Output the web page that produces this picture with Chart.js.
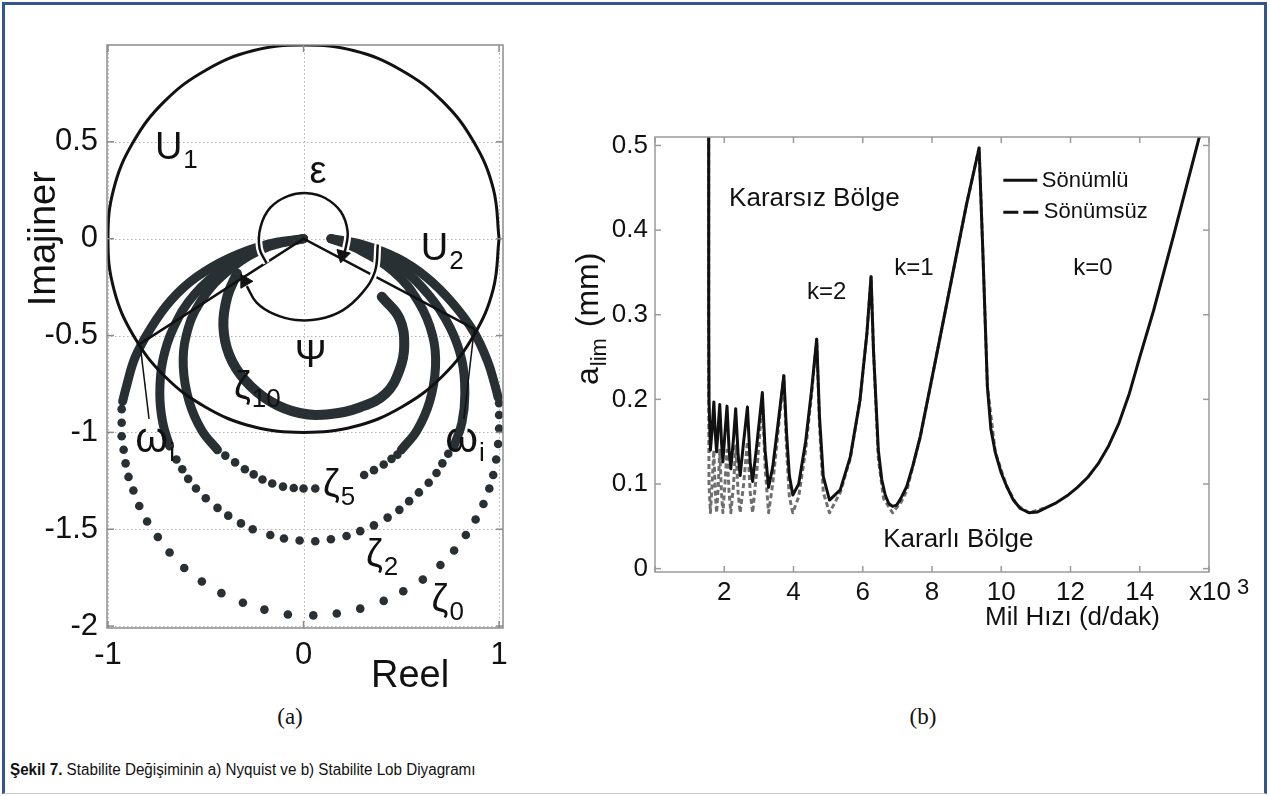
<!DOCTYPE html>
<html>
<head>
<meta charset="utf-8">
<script src="https://cdn.jsdelivr.net/npm/chart.js@4.4.1/dist/chart.umd.min.js"></script>
<style>
    body { margin: 0; width: 1270px; height: 796px; background: #fff; position: relative; overflow: hidden; }
    #frame { position: absolute; left: 2px; top: 2px; width: 1265px; height: 792px; box-sizing: border-box;
             border: 3px solid #36548f; border-bottom: 1px solid #c9ccd5; }
    #nyq { position: absolute; left: 0; top: 0; }
    #lobe { position: absolute; left: 560px; top: 90px; }
    .part { position: absolute; top: 704px; width: 60px; text-align: center;
            font-family: "Liberation Serif", "Times New Roman", serif; font-size: 23px; color: #111; }
    #caption { position: absolute; left: 10px; top: 761px; color: #111; white-space: nowrap;
               transform: scaleX(0.95); transform-origin: left top;
               font-family: "Liberation Sans Narrow", "Liberation Sans", Arial, sans-serif; font-size: 16px; }
</style>
</head>
<body>
<div id="frame"></div>
<canvas id="nyq" width="560" height="700"></canvas>
<canvas id="lobe" width="700" height="560"></canvas>
<div class="part" style="left:260px">(a)</div>
<div class="part" style="left:893px">(b)</div>
<div id="caption"><b>Şekil 7.</b> Stabilite Değişiminin a) Nyquist ve b) Stabilite Lob Diyagramı</div>

<script>
// ---- (a) Nyquist data: [real, imaginary] ----
const nyqXTicks = [-1, 0, 1];
const nyqYTicks = [-2, -1.5, -1, -0.5, 0, 0.5];

const unitCircle = [[1, 0], [0.97, 0.26], [0.87, 0.5], [0.71, 0.71], [0.5, 0.87], [0.26, 0.97], [0, 1],
    [-0.26, 0.97], [-0.5, 0.87], [-0.71, 0.71], [-0.87, 0.5], [-0.97, 0.26], [-1, 0], [-0.97, -0.26],
    [-0.87, -0.5], [-0.71, -0.71], [-0.5, -0.87], [-0.26, -0.97], [0, -1], [0.26, -0.97], [0.5, -0.87],
    [0.71, -0.71], [0.87, -0.5], [0.97, -0.26], [1, 0]];
const angleLines = [[-0.836, -0.543], [0, 0], [0.873, -0.466]];
const omegaLeftLine = [[-0.836, -0.543], [-0.79, -0.93]];
const omegaRightLine = [[0.873, -0.466], [0.82, -0.93]];
const epsilonArc = [[-0.19, -0.125], [-0.225, -0.05], [-0.22, 0.06], [-0.17, 0.16], [-0.08, 0.22], [0.02, 0.235],
    [0.11, 0.21], [0.19, 0.14], [0.225, 0.04], [0.215, -0.05], [0.2, -0.09]];
const psiArc = [[0.38, -0.03], [0.365, -0.17], [0.3, -0.28], [0.2, -0.37], [0.08, -0.415], [-0.04, -0.42],
    [-0.15, -0.39], [-0.24, -0.33], [-0.29, -0.245]];
const epsilonArrow = [[0.2, -0.085]];
const psiArrow = [[-0.3, -0.22]];

const zeta0Left = [[0, 0], [-0.19, -0.03], [-0.38, -0.1], [-0.55, -0.2], [-0.68, -0.32], [-0.78, -0.46],
    [-0.86, -0.61], [-0.905, -0.76], [-0.925, -0.84]];
const zeta0Right = [[0.14, 0], [0.3, -0.03], [0.48, -0.1], [0.63, -0.2], [0.76, -0.33], [0.87, -0.48],
    [0.94, -0.63], [0.98, -0.76], [0.995, -0.82]];
const zeta0Dots = [[-0.93, -0.88], [-0.93, -0.95], [-0.93, -1.02], [-0.92, -1.09], [-0.91, -1.16], [-0.895, -1.23],
    [-0.87, -1.3], [-0.84, -1.38], [-0.8, -1.46], [-0.745, -1.54], [-0.685, -1.62], [-0.61, -1.7], [-0.52, -1.77],
    [-0.42, -1.83], [-0.31, -1.88], [-0.2, -1.915], [-0.08, -1.94], [0.05, -1.945], [0.17, -1.935], [0.29, -1.91],
    [0.41, -1.87], [0.51, -1.82], [0.61, -1.76], [0.7, -1.685], [0.77, -1.61], [0.83, -1.53], [0.88, -1.45],
    [0.92, -1.37], [0.95, -1.29], [0.97, -1.22], [0.985, -1.14], [0.995, -1.06], [1.0, -0.98], [1.0, -0.91], [1.0, -0.85]];

const zeta2Left = [[0, 0], [-0.19, -0.04], [-0.4, -0.15], [-0.56, -0.29], [-0.665, -0.46], [-0.72, -0.63],
    [-0.735, -0.8], [-0.72, -0.95], [-0.685, -1.07]];
const zeta2Right = [[0.14, 0], [0.29, -0.04], [0.47, -0.13], [0.64, -0.29], [0.75, -0.46], [0.81, -0.63],
    [0.825, -0.8], [0.81, -0.95], [0.77, -1.07]];
const zeta2Dots = [[-0.65, -1.14], [-0.62, -1.19], [-0.59, -1.24], [-0.55, -1.29], [-0.5, -1.34], [-0.44, -1.39],
    [-0.385, -1.43], [-0.32, -1.47], [-0.26, -1.5], [-0.17, -1.53], [-0.1, -1.548], [-0.02, -1.558], [0.06, -1.562],
    [0.14, -1.552], [0.22, -1.535], [0.29, -1.51], [0.36, -1.48], [0.43, -1.44], [0.49, -1.4], [0.54, -1.355],
    [0.59, -1.31], [0.64, -1.26], [0.68, -1.21], [0.71, -1.16], [0.74, -1.11]];

const zeta5Left = [[0, 0], [-0.2, -0.05], [-0.39, -0.17], [-0.53, -0.33], [-0.6, -0.5], [-0.615, -0.66],
    [-0.585, -0.84], [-0.52, -0.99], [-0.44, -1.09]];
const zeta5Right = [[0.14, 0], [0.27, -0.05], [0.46, -0.17], [0.59, -0.33], [0.66, -0.5], [0.675, -0.66],
    [0.645, -0.84], [0.58, -0.99], [0.5, -1.09]];
const zeta5Dots = [[-0.4, -1.12], [-0.35, -1.155], [-0.3, -1.19], [-0.255, -1.217], [-0.21, -1.243], [-0.16, -1.264],
    [-0.105, -1.28], [-0.05, -1.287], [0.0, -1.29], [0.06, -1.29], [0.31, -1.22], [0.36, -1.195], [0.41, -1.166],
    [0.45, -1.137], [0.48, -1.115]];

const zeta10Band = [[-0.34, -0.18], [-0.39, -0.3], [-0.41, -0.45], [-0.38, -0.6], [-0.3, -0.73], [-0.17, -0.84],
    [-0.02, -0.9], [0.14, -0.905], [0.29, -0.87], [0.42, -0.8], [0.49, -0.68], [0.515, -0.55], [0.49, -0.41], [0.4, -0.3]];

// ---- (b) stability lobes: [speed x10^3 d/dak, a_lim mm] ----
const lobeXTicks = [0, 2, 4, 6, 8, 10, 12, 14, 16];
const lobeYTicks = [0, 0.1, 0.2, 0.3, 0.4, 0.5];

const dampedLobes = [[1.55, 0.53], [1.551, 0.3], [1.56, 0.2], [1.6, 0.14], [1.65, 0.165], [1.7, 0.197], [1.74, 0.16],
    [1.78, 0.138], [1.83, 0.17], [1.87, 0.194], [1.92, 0.15], [1.96, 0.126], [2.02, 0.16], [2.08, 0.192], [2.14, 0.14],
    [2.19, 0.118], [2.27, 0.155], [2.33, 0.189], [2.4, 0.135], [2.46, 0.11], [2.56, 0.15], [2.67, 0.191], [2.75, 0.125],
    [2.82, 0.103], [2.95, 0.15], [3.1, 0.208], [3.18, 0.14], [3.28, 0.096], [3.4, 0.12], [3.55, 0.17], [3.72, 0.228],
    [3.8, 0.16], [3.88, 0.11], [3.98, 0.087], [4.15, 0.1], [4.35, 0.15], [4.52, 0.21], [4.67, 0.271], [4.75, 0.18],
    [4.86, 0.109], [5.04, 0.081], [5.35, 0.093], [5.64, 0.132], [5.92, 0.199], [6.12, 0.278], [6.24, 0.345],
    [6.31, 0.258], [6.45, 0.14], [6.55, 0.105], [6.65, 0.087], [6.75, 0.077], [6.86, 0.0735], [6.98, 0.075],
    [7.1, 0.083], [7.27, 0.097], [7.45, 0.122], [7.66, 0.156], [8.14, 0.254], [8.62, 0.353], [9.0, 0.431],
    [9.36, 0.497], [9.47, 0.373], [9.6, 0.215], [9.7, 0.165], [9.83, 0.137], [10.0, 0.113], [10.16, 0.097],
    [10.35, 0.081], [10.55, 0.071], [10.8, 0.066], [11.05, 0.067], [11.3, 0.072], [11.6, 0.078], [11.9, 0.086],
    [12.2, 0.096], [12.5, 0.108], [12.8, 0.124], [13.1, 0.145], [13.4, 0.172], [13.7, 0.207], [14.0, 0.25],
    [14.4, 0.305], [15.0, 0.397], [15.72, 0.51], [15.8, 0.522]];

const undampedLobes = [[1.55, 0.53], [1.551, 0.2], [1.56, 0.1], [1.6, 0.066], [1.65, 0.1], [1.7, 0.14], [1.74, 0.09],
    [1.78, 0.066], [1.83, 0.1], [1.87, 0.14], [1.92, 0.09], [1.96, 0.066], [2.02, 0.1], [2.08, 0.14], [2.14, 0.09],
    [2.19, 0.066], [2.27, 0.1], [2.33, 0.145], [2.4, 0.09], [2.46, 0.066], [2.56, 0.1], [2.67, 0.15], [2.75, 0.09],
    [2.82, 0.066], [2.95, 0.12], [3.1, 0.2], [3.18, 0.12], [3.28, 0.066], [3.4, 0.1], [3.55, 0.16], [3.72, 0.228],
    [3.8, 0.14], [3.88, 0.085], [3.98, 0.066], [4.15, 0.085], [4.35, 0.14], [4.52, 0.205], [4.67, 0.271],
    [4.75, 0.17], [4.86, 0.09], [5.04, 0.066], [5.35, 0.09], [5.64, 0.13], [5.92, 0.199], [6.12, 0.278],
    [6.24, 0.345], [6.31, 0.258], [6.45, 0.13], [6.6, 0.083], [6.86, 0.066], [7.1, 0.078], [7.27, 0.092],
    [7.66, 0.155], [8.14, 0.254], [8.62, 0.353], [9.0, 0.431], [9.36, 0.497], [9.47, 0.373], [9.6, 0.215],
    [9.83, 0.137], [10.16, 0.097], [10.45, 0.075], [10.8, 0.066], [11.3, 0.072]];

// ---- helpers ----
const FONT = '"Liberation Sans", Arial, Helvetica, sans-serif';
const INK = '#283033';
const pts = a => a.map(([x, y]) => ({ x, y }));

function lineSet(data, color, width, order, extra) {
    return Object.assign({
        data: pts(data), showLine: true, borderColor: color, borderWidth: width,
        pointRadius: 0, tension: 0, fill: false, order: order
    }, extra || {});
}

function dotSet(data, order) {
    return { data: pts(data), showLine: false, pointRadius: 4.3, backgroundColor: INK, borderWidth: 0, order: order };
}

function arrowSet(data, rotation) {
    return { data: pts(data), showLine: false, pointStyle: 'triangle', pointRadius: 8, rotation: rotation,
             backgroundColor: '#111', borderColor: '#111', borderWidth: 1, order: 0 };
}

function seg(ctx, x1, y1, x2, y2) {
    ctx.beginPath(); ctx.moveTo(x1, y1); ctx.lineTo(x2, y2); ctx.stroke();
}

// text with optional subscript, left/baseline anchored
function richText(ctx, text, sub, px, py, size, subSize, subDy) {
    ctx.font = size + 'px ' + FONT;
    ctx.textAlign = 'left';
    ctx.textBaseline = 'alphabetic';
    ctx.fillText(text, px, py);
    if (sub) {
        const w = ctx.measureText(text).width;
        ctx.font = subSize + 'px ' + FONT;
        ctx.fillText(sub, px + w + 1, py + subDy);
    }
}

function boxAndTicks(ctx, a, x, y, xTicks, yTicks, color, len) {
    ctx.save();
    ctx.strokeStyle = color;
    ctx.lineWidth = 1.5;
    ctx.strokeRect(a.left, a.top, a.width, a.height);
    xTicks.forEach(v => {
        const p = x.getPixelForValue(v);
        seg(ctx, p, a.bottom, p, a.bottom - len);
        seg(ctx, p, a.top, p, a.top + len);
    });
    yTicks.forEach(v => {
        const p = y.getPixelForValue(v);
        seg(ctx, a.left, p, a.left + len, p);
        seg(ctx, a.right, p, a.right - len, p);
    });
    ctx.restore();
}

// ---- (a) Nyquist ----
const nyqLabels = [
    { t: 'U', s: '1', x: -0.76, y: 0.41 },
    { t: 'ε', s: '', x: 0.03, y: 0.285 },
    { t: 'U', s: '2', x: 0.6, y: -0.11 },
    { t: 'Ψ', s: '', x: -0.045, y: -0.66 },
    { t: 'ζ', s: '10', x: -0.355, y: -0.82 },
    { t: 'ω', s: 'i', x: -0.86, y: -1.1 },
    { t: 'ω', s: 'i', x: 0.725, y: -1.1 },
    { t: 'ζ', s: '5', x: 0.1, y: -1.33 },
    { t: 'ζ', s: '2', x: 0.32, y: -1.69 },
    { t: 'ζ', s: '0', x: 0.655, y: -1.92 }
];

const nyqDecor = {
    id: 'nyqDecor',
    beforeDatasetsDraw(chart) {
        const { ctx, chartArea: a, scales: { x, y } } = chart;
        ctx.save();
        ctx.strokeStyle = '#b4b4b4';
        ctx.lineWidth = 1;
        ctx.setLineDash([1.5, 2.5]);
        nyqXTicks.forEach(v => { const p = Math.round(x.getPixelForValue(v)) + 0.5; seg(ctx, p, a.top, p, a.bottom); });
        nyqYTicks.forEach(v => { const p = Math.round(y.getPixelForValue(v)) + 0.5; seg(ctx, a.left, p, a.right, p); });
        ctx.restore();
    },
    afterDatasetsDraw(chart) {
        const { ctx, chartArea: a, scales: { x, y } } = chart;
        boxAndTicks(ctx, a, x, y, nyqXTicks, nyqYTicks, '#8c8c8c', 7);
        ctx.save();
        ctx.fillStyle = '#111';
        nyqLabels.forEach(l => {
            const size = l.t === 'ω' ? 42 : 38;
            richText(ctx, l.t, l.s, x.getPixelForValue(l.x), y.getPixelForValue(l.y), size, 26, 9);
        });
        // axis titles
        ctx.font = '38px ' + FONT;
        ctx.textAlign = 'center';
        ctx.save();
        ctx.translate(55, y.getPixelForValue(0));
        ctx.rotate(-Math.PI / 2);
        ctx.fillText('Imajiner', 0, 0);
        ctx.restore();
        ctx.textAlign = 'left';
        ctx.fillText('Reel', 371, 687);
        ctx.restore();
    }
};

new Chart(document.getElementById('nyq'), {
    type: 'scatter',
    data: {
        datasets: [
            lineSet(unitCircle, '#111', 3, 2, { tension: 0.4 }),
            lineSet(angleLines, '#111', 2.5, 2),
            lineSet(omegaLeftLine, '#111', 1.5, 2),
            lineSet(omegaRightLine, '#111', 1.5, 2),
            lineSet(epsilonArc, '#fff', 7, 1, { tension: 0.4 }),
            lineSet(psiArc, '#fff', 7, 1, { tension: 0.4 }),
            lineSet(epsilonArc, '#111', 2.5, 0, { tension: 0.4 }),
            lineSet(psiArc, '#111', 2.5, 0, { tension: 0.4 }),
            arrowSet(epsilonArrow, 195),
            arrowSet(psiArrow, 330),
            lineSet(zeta0Left, INK, 9, 5, { tension: 0.4, borderCapStyle: 'round' }),
            lineSet(zeta0Right, INK, 9, 5, { tension: 0.4, borderCapStyle: 'round' }),
            lineSet(zeta2Left, INK, 9, 5, { tension: 0.4, borderCapStyle: 'round' }),
            lineSet(zeta2Right, INK, 9, 5, { tension: 0.4, borderCapStyle: 'round' }),
            lineSet(zeta5Left, INK, 9, 5, { tension: 0.4, borderCapStyle: 'round' }),
            lineSet(zeta5Right, INK, 9, 5, { tension: 0.4, borderCapStyle: 'round' }),
            lineSet(zeta10Band, INK, 10, 5, { tension: 0.4, borderCapStyle: 'round' }),
            dotSet(zeta0Dots, 5),
            dotSet(zeta2Dots, 5),
            dotSet(zeta5Dots, 5)
        ]
    },
    options: {
        responsive: false,
        animation: false,
        events: [],
        layout: { padding: { top: 45, right: 57, bottom: 0, left: 0 } },
        plugins: { legend: { display: false }, tooltip: { enabled: false } },
        scales: {
            x: {
                type: 'linear', min: -1.005, max: 1.02,
                grid: { display: false, drawTicks: false }, border: { display: false },
                afterBuildTicks: s => { s.ticks = nyqXTicks.map(v => ({ value: v })); },
                afterFit: s => { s.height = 72; },
                ticks: { autoSkip: false, padding: 9, color: '#111', font: { family: FONT, size: 31 }, callback: v => String(v) }
            },
            y: {
                type: 'linear', min: -2.01, max: 1.0,
                grid: { display: false, drawTicks: false }, border: { display: false },
                afterBuildTicks: s => { s.ticks = nyqYTicks.map(v => ({ value: v })); },
                afterFit: s => { s.width = 107; },
                ticks: { autoSkip: false, padding: 9, color: '#111', font: { family: FONT, size: 31 }, callback: v => String(v) }
            }
        }
    },
    plugins: [nyqDecor]
});

// ---- (b) stability lobe diagram ----
const lobeLabels = [
    { t: 'Kararsız Bölge', x: 2.14, y: 0.428, size: 26 },
    { t: 'k=2', x: 4.39, y: 0.318, size: 24 },
    { t: 'k=1', x: 6.91, y: 0.347, size: 24 },
    { t: 'k=0', x: 12.08, y: 0.347, size: 24 },
    { t: 'Kararlı Bölge', x: 6.59, y: 0.026, size: 26 }
];

const lobeDecor = {
    id: 'lobeDecor',
    afterDatasetsDraw(chart) {
        const { ctx, chartArea: a, scales: { x, y } } = chart;
        boxAndTicks(ctx, a, x, y, lobeXTicks, lobeYTicks, '#9a9a9a', 6);
        ctx.save();
        ctx.fillStyle = '#111';
        lobeLabels.forEach(l => richText(ctx, l.t, '', x.getPixelForValue(l.x), y.getPixelForValue(l.y), l.size));

        // legend
        const lx1 = x.getPixelForValue(10.06), lx2 = x.getPixelForValue(11.04), tx = x.getPixelForValue(11.17);
        ctx.strokeStyle = '#111';
        ctx.lineWidth = 3;
        seg(ctx, lx1, y.getPixelForValue(0.459), lx2, y.getPixelForValue(0.459));
        ctx.setLineDash([15, 5]);
        seg(ctx, lx1, y.getPixelForValue(0.421), lx1 + 35, y.getPixelForValue(0.421));
        ctx.setLineDash([]);
        richText(ctx, 'Sönümlü', '', tx, y.getPixelForValue(0.4505), 22);
        richText(ctx, 'Sönümsüz', '', tx + 2, y.getPixelForValue(0.414), 22);

        // axis titles
        richText(ctx, 'Mil Hızı (d/dak)', '', a.left + 330, a.bottom + 53, 26);
        richText(ctx, 'x10', '', a.right - 20, a.bottom + 28, 26);
        richText(ctx, '3', '', a.right + 28, a.bottom + 22, 22);
        ctx.save();
        ctx.translate(38, 295);
        ctx.rotate(-Math.PI / 2);
        ctx.font = '32px ' + FONT;
        ctx.textAlign = 'left';
        ctx.fillText('a', 0, 0);
        const wa = ctx.measureText('a').width;
        ctx.font = '22px ' + FONT;
        ctx.fillText('lim', wa + 1, 8);
        const wl = ctx.measureText('lim').width;
        ctx.font = '32px ' + FONT;
        ctx.fillText(' (mm)', wa + wl + 3, 0);
        ctx.restore();
        ctx.restore();
    }
};

new Chart(document.getElementById('lobe'), {
    type: 'scatter',
    data: {
        datasets: [
            lineSet(undampedLobes, '#6f6f6f', 3, 2, { borderDash: [5, 3], borderJoinStyle: 'round' }),
            lineSet(dampedLobes, '#111', 3, 1, { borderJoinStyle: 'round' })
        ]
    },
    options: {
        responsive: false,
        animation: false,
        events: [],
        layout: { padding: { top: 47, right: 51, bottom: 0, left: 0 } },
        plugins: { legend: { display: false }, tooltip: { enabled: false } },
        scales: {
            x: {
                type: 'linear', min: 0, max: 16,
                grid: { display: false, drawTicks: false }, border: { display: false },
                afterBuildTicks: s => { s.ticks = lobeXTicks.map(v => ({ value: v })); },
                afterFit: s => { s.height = 78; },
                ticks: { autoSkip: false, padding: 5, color: '#111', font: { family: FONT, size: 26 },
                         callback: v => (v === 0 || v === 16) ? '' : String(v) }
            },
            y: {
                type: 'linear', min: -0.004, max: 0.51,
                grid: { display: false, drawTicks: false }, border: { display: false },
                afterBuildTicks: s => { s.ticks = lobeYTicks.map(v => ({ value: v })); },
                afterFit: s => { s.width = 95; },
                ticks: { autoSkip: false, padding: 7, color: '#111', font: { family: FONT, size: 26 },
                         callback: v => v === 0 ? '0' : v.toFixed(1) }
            }
        }
    },
    plugins: [lobeDecor]
});
</script>
</body>
</html>
